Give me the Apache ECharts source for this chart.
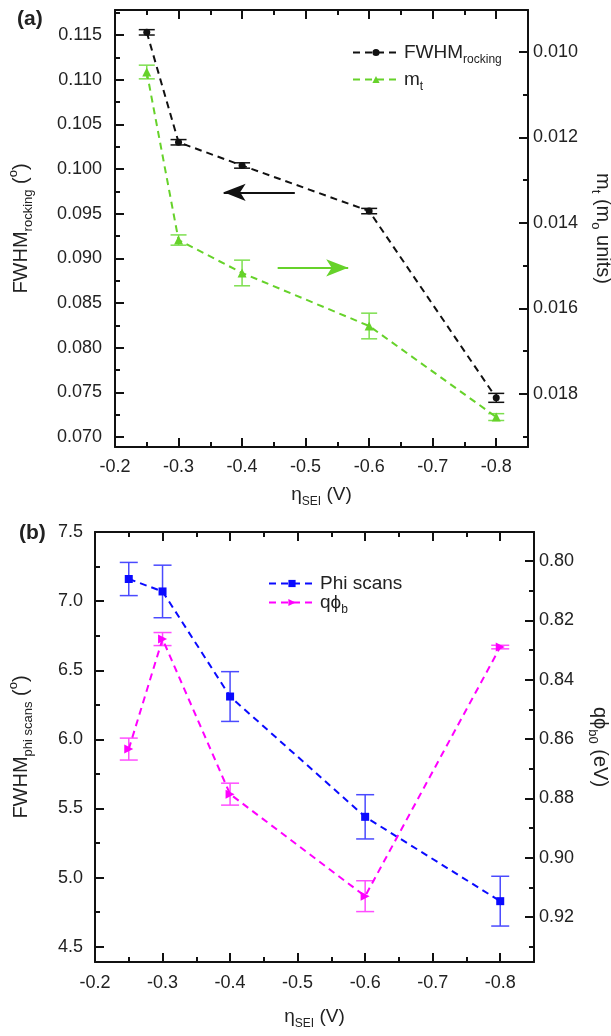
<!DOCTYPE html>
<html>
<head>
<meta charset="utf-8">
<script src="https://cdn.jsdelivr.net/npm/echarts@6.0.0/dist/echarts.min.js"></script>
<style>
  html, body { margin: 0; padding: 0; background: #fff; }
  #chart { width: 611px; height: 1036px; }
</style>
</head>
<body>
<div id="chart"></div>
<script>
// eta_SEI (V)
const etaSEI = [-0.25, -0.3, -0.4, -0.6, -0.8];

// panel (a)
const fwhmRocking = [0.1153, 0.1030, 0.1004, 0.0953, 0.0744];
const fwhmRockingErr = [0.0003, 0.0003, 0.0003, 0.0003, 0.0005];
const mt = [0.01047, 0.01440, 0.01517, 0.01641, 0.01854];
const mtErr = [0.00016, 0.00012, 0.0003, 0.0003, 0.00008];

// panel (b)
const phiScans = [7.16, 7.07, 6.31, 5.44, 4.83];
const phiScansErr = [0.12, 0.19, 0.18, 0.16, 0.18];
const qPhiB = [0.8634, 0.8263, 0.8786, 0.9130, 0.8290];
const qPhiBErr = [0.0037, 0.0022, 0.0037, 0.0052, 0.0006];

// ticks
const xMajor = [-0.2, -0.3, -0.4, -0.5, -0.6, -0.7, -0.8];
const xMinor = [-0.25, -0.35, -0.45, -0.55, -0.65, -0.75, -0.85];
const aLeftMajor = [0.070, 0.075, 0.080, 0.085, 0.090, 0.095, 0.100, 0.105, 0.110, 0.115];
const aLeftMinor = [0.0725, 0.0775, 0.0825, 0.0875, 0.0925, 0.0975, 0.1025, 0.1075, 0.1125, 0.1175];
const aRightMajor = [0.010, 0.012, 0.014, 0.016, 0.018];
const aRightMinor = [0.009, 0.011, 0.013, 0.015, 0.017, 0.019];
const bLeftMajor = [4.5, 5.0, 5.5, 6.0, 6.5, 7.0, 7.5];
const bLeftMinor = [4.75, 5.25, 5.75, 6.25, 6.75, 7.25];
const bRightMajor = [0.80, 0.82, 0.84, 0.86, 0.88, 0.90, 0.92];
const bRightMinor = [0.79, 0.81, 0.83, 0.85, 0.87, 0.89, 0.91, 0.93];

const FONT = 'Liberation Sans, Arial, sans-serif';
const GREEN = '#66d22a';
const BLUE = '#0a0aff';
const MAGENTA = '#ff00ff';

const rich = {
  m: { fontSize: 19, fontFamily: FONT, color: '#222', lineHeight: 27 },
  sub: { fontSize: 12, fontFamily: FONT, color: '#222', verticalAlign: 'bottom', lineHeight: 27 },
  sup: { fontSize: 12, fontFamily: FONT, color: '#222', verticalAlign: 'top', lineHeight: 27 }
};
const richName = {
  m: { fontSize: 20, fontFamily: FONT, color: '#222', lineHeight: 28 },
  sub: { fontSize: 13, fontFamily: FONT, color: '#222', verticalAlign: 'bottom', lineHeight: 28 },
  sup: { fontSize: 13, fontFamily: FONT, color: '#222', verticalAlign: 'top', lineHeight: 28 }
};

function axis(o) {
  const a = {
    type: 'value',
    gridIndex: o.grid,
    position: o.pos,
    min: o.min,
    max: o.max,
    inverse: !!o.inverse,
    splitLine: { show: false },
    axisLine: { show: !o.minor, onZero: false, lineStyle: { color: '#111', width: 2 } },
    axisTick: { show: true, inside: true, length: o.minor ? 5 : 9, customValues: o.ticks,
      lineStyle: { color: '#111', width: 2 } },
    axisLabel: { show: false },
    axisPointer: { show: false }
  };
  if (o.labels) {
    a.axisLabel = { show: true, customValues: o.ticks, fontSize: 18, fontFamily: FONT, color: '#222',
      margin: o.margin || 8, formatter: v => v.toFixed(o.dec) };
  }
  if (o.name) {
    a.name = o.name;
    a.nameLocation = 'middle';
    a.nameGap = o.nameGap;
    a.nameRotate = o.nameRotate;
    a.nameTextStyle = { rich: o.nameRotate ? richName : rich };
  }
  return a;
}

function errorBars(xi, yi, ys, errs, color, half) {
  return {
    type: 'custom',
    xAxisIndex: xi,
    yAxisIndex: yi,
    silent: true,
    z: 3,
    encode: { x: 0, y: [1, 2] },
    data: etaSEI.map((x, i) => [x, ys[i] - errs[i], ys[i] + errs[i]]),
    renderItem: (params, api) => {
      const lo = api.coord([api.value(0), api.value(1)]);
      const hi = api.coord([api.value(0), api.value(2)]);
      const st = { stroke: color, lineWidth: 1.5 };
      return {
        type: 'group',
        children: [
          { type: 'line', shape: { x1: lo[0], y1: lo[1], x2: hi[0], y2: hi[1] }, style: st },
          { type: 'line', shape: { x1: lo[0] - half, y1: lo[1], x2: lo[0] + half, y2: lo[1] }, style: st },
          { type: 'line', shape: { x1: hi[0] - half, y1: hi[1], x2: hi[0] + half, y2: hi[1] }, style: st }
        ]
      };
    }
  };
}

function lineSeries(name, xi, yi, ys, color, symbol, size, rot, arrow) {
  const s = {
    name: name,
    type: 'line',
    xAxisIndex: xi,
    yAxisIndex: yi,
    data: etaSEI.map((x, i) => [x, ys[i]]),
    symbol: symbol,
    symbolSize: size,
    symbolRotate: rot || 0,
    showAllSymbol: true,
    z: 4,
    itemStyle: { color: color },
    lineStyle: { color: color, width: 2, type: [7, 5] },
    emphasis: { disabled: true }
  };
  if (arrow) {
    s.markLine = {
      silent: true,
      symbol: ['none', 'arrow'],
      symbolSize: [13, 22],
      label: { show: false },
      lineStyle: { color: color, width: 2, type: 'solid' },
      data: [[{ coord: arrow[0] }, { coord: arrow[1] }]]
    };
  }
  return s;
}

const legendNames = {
  'FWHM rocking': '{m|FWHM}{sub|rocking}',
  'm t': '{m|m}{sub|t}',
  'Phi scans': '{m|Phi scans}',
  'q phi b': '{m|q\u03d5}{sub|b}'
};

const chart = echarts.init(document.getElementById('chart'), null, { renderer: 'canvas' });

const option = {
  animation: false,
  backgroundColor: '#fff',
  grid: [
    { left: 115, right: 83, top: 10, height: 437, outerBoundsMode: 'none', containLabel: false },
    { left: 95, right: 77, top: 532, height: 430, outerBoundsMode: 'none', containLabel: false }
  ],
  title: [
    { text: '(a)', left: 12, top: 4, textStyle: { fontSize: 21, fontWeight: 'bold', fontFamily: FONT, color: '#222' } },
    { text: '(b)', left: 14, top: 518, textStyle: { fontSize: 21, fontWeight: 'bold', fontFamily: FONT, color: '#222' } }
  ],
  legend: [
    {
      data: ['FWHM rocking', 'm t'],
      left: 347, top: 38, orient: 'vertical', itemGap: 4, itemWidth: 46, itemHeight: 9,
      formatter: n => legendNames[n],
      textStyle: { rich: rich },
      selectedMode: false
    },
    {
      data: ['Phi scans', 'q phi b'],
      left: 263, top: 569, orient: 'vertical', itemGap: 0, itemWidth: 46, itemHeight: 9,
      formatter: n => legendNames[n],
      textStyle: { rich: rich },
      selectedMode: false
    }
  ],
  xAxis: [
    axis({ grid: 0, pos: 'bottom', min: -0.85, max: -0.2, inverse: true, ticks: xMajor, labels: true, dec: 1, margin: 11,
      name: '{m|\u03b7}{sub|SEI}{m| (V)}', nameGap: 34, nameRotate: 0 }),
    axis({ grid: 0, pos: 'top', min: -0.85, max: -0.2, inverse: true, ticks: xMajor }),
    axis({ grid: 0, pos: 'bottom', min: -0.85, max: -0.2, inverse: true, ticks: xMinor, minor: true }),
    axis({ grid: 0, pos: 'top', min: -0.85, max: -0.2, inverse: true, ticks: xMinor, minor: true }),
    axis({ grid: 1, pos: 'bottom', min: -0.85, max: -0.2, inverse: true, ticks: xMajor, labels: true, dec: 1, margin: 12,
      name: '{m|\u03b7}{sub|SEI}{m| (V)}', nameGap: 41, nameRotate: 0 }),
    axis({ grid: 1, pos: 'top', min: -0.85, max: -0.2, inverse: true, ticks: xMajor }),
    axis({ grid: 1, pos: 'bottom', min: -0.85, max: -0.2, inverse: true, ticks: xMinor, minor: true }),
    axis({ grid: 1, pos: 'top', min: -0.85, max: -0.2, inverse: true, ticks: xMinor, minor: true })
  ],
  yAxis: [
    axis({ grid: 0, pos: 'left', min: 0.0689, max: 0.1178, ticks: aLeftMajor, labels: true, dec: 3, margin: 13,
      name: '{m|FWHM}{sub|rocking}{m| (}{sup|o}{m|)}', nameGap: 80, nameRotate: 90 }),
    axis({ grid: 0, pos: 'left', min: 0.0689, max: 0.1178, ticks: aLeftMinor, minor: true }),
    axis({ grid: 0, pos: 'right', min: 0.00902, max: 0.01924, inverse: true, ticks: aRightMajor, labels: true, dec: 3, margin: 5,
      name: '{m|m}{sub|t}{m| (m}{sub|o}{m| units)}', nameGap: 58, nameRotate: -90 }),
    axis({ grid: 0, pos: 'right', min: 0.00902, max: 0.01924, inverse: true, ticks: aRightMinor, minor: true }),
    axis({ grid: 1, pos: 'left', min: 4.39, max: 7.5, ticks: bLeftMajor, labels: true, dec: 1, margin: 12,
      name: '{m|FWHM}{sub|phi scans}{m| (}{sup|o}{m|)}', nameGap: 60, nameRotate: 90 }),
    axis({ grid: 1, pos: 'left', min: 4.39, max: 7.5, ticks: bLeftMinor, minor: true }),
    axis({ grid: 1, pos: 'right', min: 0.7902, max: 0.9352, inverse: true, ticks: bRightMajor, labels: true, dec: 2, margin: 5,
      name: '{m|q\u03d5}{sub|b0}{m| (eV)}', nameGap: 52, nameRotate: -90 }),
    axis({ grid: 1, pos: 'right', min: 0.7902, max: 0.9352, inverse: true, ticks: bRightMinor, minor: true })
  ],
  series: [
    errorBars(0, 0, fwhmRocking, fwhmRockingErr, '#111', 8),
    errorBars(0, 2, mt, mtErr, '#7ddf4f', 8),
    lineSeries('FWHM rocking', 0, 0, fwhmRocking, '#111', 'circle', 7, 0,
      [[-0.483, 0.0974], [-0.371, 0.0974]]),
    lineSeries('m t', 0, 2, mt, GREEN, 'triangle', 9, 0,
      [[-0.456, 0.01505], [-0.567, 0.01505]]),
    errorBars(4, 4, phiScans, phiScansErr, '#4a4aff', 9),
    errorBars(4, 6, qPhiB, qPhiBErr, '#ff4dff', 9),
    lineSeries('Phi scans', 4, 4, phiScans, BLUE, 'rect', 8, 0),
    lineSeries('q phi b', 4, 6, qPhiB, MAGENTA, 'triangle', 9, -90)
  ]
};

chart.setOption(option);
window.addEventListener('resize', chart.resize);
</script>
</body>
</html>
